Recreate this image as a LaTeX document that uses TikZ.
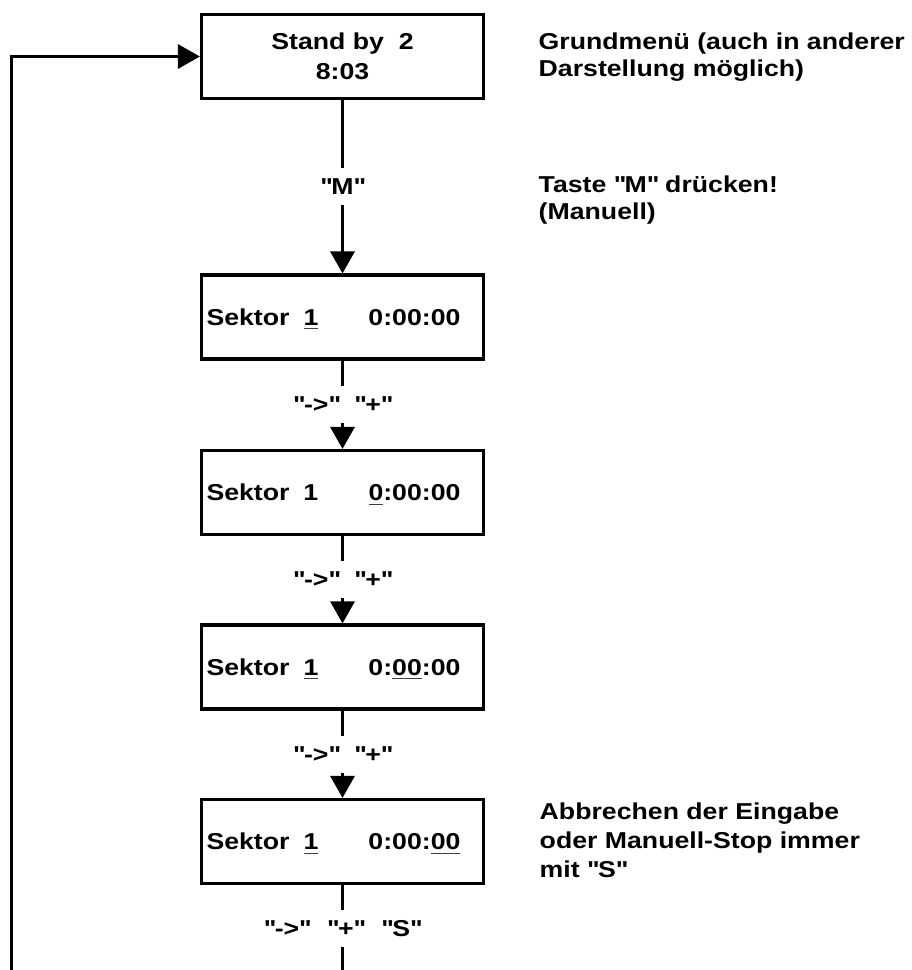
\documentclass[tikz,border=0pt]{standalone}
\usepackage{fontspec}
\setmainfont{Liberation Sans}[FakeStretch=1.16]
\usetikzlibrary{arrows.meta}
\newcommand\qq{\XeTeXglyph\XeTeXglyphindex "quotedbl"\relax}
\newcommand\ulin[1]{\setbox0\hbox{#1}\rlap{\color{black!75}\rule[-4pt]{\wd0}{1.2pt}}\box0}
\newcommand\sekline[2]{\makebox[272pt][l]{\makebox[97pt][l]{Sektor}\makebox[65pt][l]{#1}#2}}
\begin{document}
\begin{tikzpicture}[x=1pt,y=-1pt,
  every node/.style={font=\fontsize{23}{27}\selectfont\bfseries},
  box/.style={draw, line width=3.2pt, minimum width=282pt, minimum height=84pt, inner sep=0pt},
  sbox/.style={box, text height=16.5pt, text depth=0pt},
  conn/.style={line width=3.3pt, -{Triangle[length=22pt,width=24pt]}},
  lbl/.style={fill=white, inner xsep=2pt, inner ysep=10.5pt, text height=16pt, text depth=0pt},
  ann/.style={align=left, inner sep=0pt, anchor=north west}]
\useasboundingbox (0,0) rectangle (912,970);
\clip (0,0) rectangle (912,970);

% boxes
\node[box, align=center, font=\fontsize{23}{29.5}\selectfont\bfseries] (b1) at (342.5,56.5) {Stand by~~2\\8:03};
\node[sbox] (b2) at (342.5,317) {\sekline{\ulin{1}}{0:00:00}};
\node[sbox] (b3) at (342.5,492.5) {\sekline{1}{\ulin{0}:00:00}};
\node[sbox] (b4) at (342.5,667) {\sekline{\ulin{1}}{0:\ulin{00}:00}};
\node[sbox] (b5) at (342.5,841.5) {\sekline{\ulin{1}}{0:00:\ulin{00}}};

% connectors
\draw[conn] (b1.south) -- node[lbl]{\qq M\qq} (b2.north);
\draw[conn] (b2.south) -- node[lbl]{\qq->\qq\hspace*{15pt}\qq+\qq} (b3.north);
\draw[conn] (b3.south) -- node[lbl]{\qq->\qq\hspace*{15pt}\qq+\qq} (b4.north);
\draw[conn] (b4.south) -- node[lbl]{\qq->\qq\hspace*{15pt}\qq+\qq} (b5.north);

\coordinate (cl) at (11.5,56.5);
\draw[conn] (b5.south) -- (342.5,1000) -| (cl) -- (b1.west);
\node[lbl] (l5) at (342.5,928) {\qq->\qq\hspace*{17pt}\qq+\qq\hspace*{17pt}\qq S\qq};

% annotations
\node[ann] (a1) at (538.5,32.6) {Grundmenü (auch in anderer\\Darstellung möglich)};
\node[ann] (a2) at (538.5,175.5) {Taste \qq M\qq{} drücken!\\(Manuell)};
\node[ann, font=\fontsize{23}{29}\selectfont\bfseries] (a3) at (539.5,802.5) {Abbrechen der Eingabe\\oder Manuell-Stop immer\\mit \qq S\qq};
\end{tikzpicture}
\end{document}
